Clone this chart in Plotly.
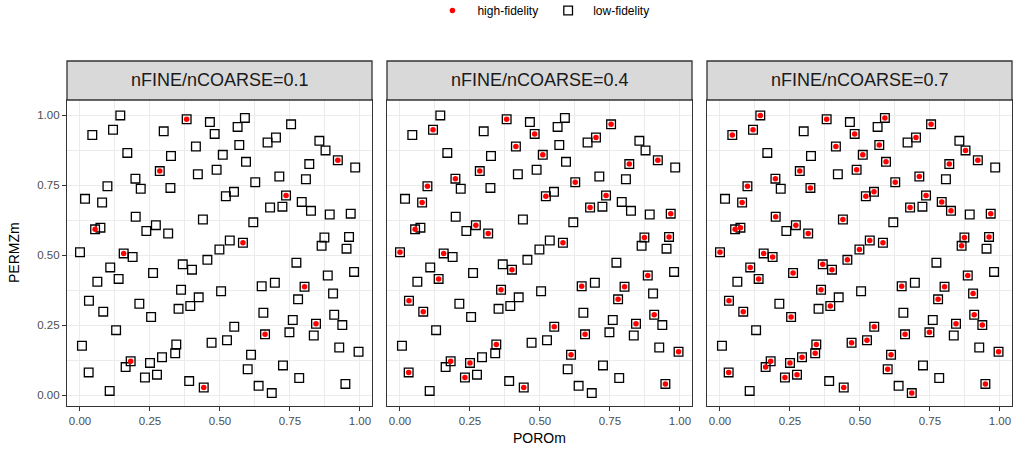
import plotly.graph_objects as go

# ---- data ----
poro = [0.144, 0.381, 0.464, 0.589, 0.563, 0.754, 0.044, 0.118, 0.299, 0.481,
        0.700, 0.670, 0.855, 0.877, 0.414, 0.569, 0.169, 0.325, 0.510, 0.593,
        0.921, 0.983, 0.819, 0.285, 0.421, 0.488, 0.712, 0.807, 0.198, 0.217,
        0.098, 0.323, 0.626, 0.550, 0.521, 0.736, 0.018, 0.079, 0.792, 0.825,
        0.679, 0.723, 0.892, 0.967, 0.199, 0.439, 0.619, 0.054, 0.073, 0.271,
        0.237, 0.315, 0.873, 0.961, 0.863, 0.952, 0.535, 0.582, 0.498, 0.000,
        0.156, 0.188, 0.455, 0.773, 0.108, 0.367, 0.400, 0.138, 0.261, 0.885,
        0.979, 0.062, 0.802, 0.649, 0.696, 0.361, 0.504, 0.904, 0.032, 0.212,
        0.424, 0.394, 0.352, 0.779, 0.083, 0.254, 0.655, 0.908, 0.760, 0.843,
        0.937, 0.129, 0.551, 0.661, 0.748, 0.835, 0.007, 0.470, 0.525, 0.344,
        0.340, 0.293, 0.250, 0.181, 0.163, 0.611, 0.926, 0.995, 0.031, 0.232,
        0.275, 0.390, 0.442, 0.599, 0.725, 0.638, 0.685, 0.783, 0.948, 0.106]
permz = [0.999, 0.985, 0.975, 0.990, 0.958, 0.967, 0.929, 0.948, 0.942, 0.933,
         0.920, 0.902, 0.908, 0.874, 0.888, 0.893, 0.865, 0.854, 0.858, 0.833,
         0.839, 0.813, 0.825, 0.800, 0.789, 0.805, 0.781, 0.771, 0.773, 0.737,
         0.746, 0.740, 0.760, 0.726, 0.710, 0.713, 0.701, 0.688, 0.690, 0.658,
         0.670, 0.673, 0.645, 0.648, 0.637, 0.627, 0.617, 0.592, 0.598, 0.607,
         0.586, 0.577, 0.563, 0.565, 0.533, 0.523, 0.552, 0.544, 0.520, 0.510,
         0.506, 0.493, 0.483, 0.473, 0.456, 0.467, 0.448, 0.415, 0.436, 0.427,
         0.440, 0.405, 0.387, 0.389, 0.401, 0.376, 0.371, 0.363, 0.337, 0.326,
         0.349, 0.318, 0.308, 0.342, 0.298, 0.279, 0.294, 0.287, 0.268, 0.255,
         0.250, 0.232, 0.244, 0.217, 0.224, 0.213, 0.176, 0.187, 0.196, 0.181,
         0.149, 0.135, 0.115, 0.121, 0.100, 0.144, 0.170, 0.155, 0.081, 0.063,
         0.073, 0.050, 0.027, 0.092, 0.106, 0.033, 0.007, 0.061, 0.040, 0.015]

# 1-based indices of the low-fidelity points that are also high-fidelity
hf_idx_01 = [2, 21, 24, 36, 48, 58, 61, 73, 90, 94, 104, 113]
hf_idx_04 = [2, 6, 8, 10, 11, 15, 19, 21, 23, 24, 29, 31, 33, 35, 36, 38, 41, 44,
             48, 50, 52, 53, 54, 58, 60, 61, 67, 68, 70, 73, 74, 76, 79, 84, 85,
             88, 90, 93, 94, 100, 103, 104, 106, 108, 109, 110, 113, 119]
hf_idx_07 = [1, 2, 4, 6, 7, 8, 10, 11, 14, 15, 16, 19, 20, 21, 23, 24, 26, 27, 29,
             31, 32, 33, 34, 35, 36, 38, 39, 40, 41, 44, 45, 46, 48, 49, 50, 52,
             53, 54, 55, 57, 58, 59, 60, 61, 62, 63, 65, 66, 67, 68, 69, 70, 73,
             74, 76, 78, 79, 82, 84, 85, 86, 88, 90, 91, 93, 94, 95, 98, 99, 100,
             101, 102, 103, 104, 105, 106, 108, 109, 110, 111, 113, 114, 117, 119]

panel_labels = ["nFINE/nCOARSE=0.1", "nFINE/nCOARSE=0.4", "nFINE/nCOARSE=0.7"]
hf_sets = [hf_idx_01, hf_idx_04, hf_idx_07]
tick_vals = [0.0, 0.25, 0.5, 0.75, 1.0]
tick_text = ["0.00", "0.25", "0.50", "0.75", "1.00"]

# ---- layout geometry (pixels) ----
W, H = 1013, 452
FONT = "Liberation Sans, Arial, Helvetica, sans-serif"
panels_px = [(67, 372), (387, 692), (707, 1012)]
panel_top, panel_bottom = 100, 406
strip_top = 61


def fx(p):
    return p / W


def fy(p):
    return 1 - p / H


fig = go.Figure()

for i, (label, idx) in enumerate(zip(panel_labels, hf_sets)):
    sfx = "" if i == 0 else str(i + 1)
    fig.add_trace(go.Scatter(
        x=poro, y=permz, mode="markers", xaxis="x" + sfx, yaxis="y" + sfx,
        name="low-fidelity", legendgroup="lf", showlegend=(i == 0), legendrank=2,
        marker=dict(symbol="square-open", size=8.7, color="#000000",
                    line=dict(width=1.3)),
        hoverinfo="skip"))
    fig.add_trace(go.Scatter(
        x=[poro[k - 1] for k in idx], y=[permz[k - 1] for k in idx],
        mode="markers", xaxis="x" + sfx, yaxis="y" + sfx,
        name="high-fidelity", legendgroup="hf", showlegend=(i == 0), legendrank=1,
        marker=dict(symbol="circle", size=5.5, color="#FF0000", line=dict(width=0)),
        hoverinfo="skip"))

axis_common = dict(
    showline=True, mirror=True, linecolor="#333333", linewidth=1.3,
    showgrid=True, gridcolor="#EBEBEB", gridwidth=1.1,
    zeroline=False, ticks="outside", ticklen=4, tickwidth=1.1, tickcolor="#333333",
    tickfont=dict(family=FONT, size=11.5, color="#4D4D4D"),
    tickvals=tick_vals, ticktext=tick_text,
    minor=dict(tickvals=[0.125, 0.375, 0.625, 0.875], showgrid=True,
               gridcolor="#EBEBEB", gridwidth=0.6, ticks=""),
)

layout = dict(
    width=W, height=H, margin=dict(l=0, r=0, t=0, b=0, autoexpand=False),
    paper_bgcolor="white", plot_bgcolor="white",
    font=dict(family=FONT, color="#000000"),
    showlegend=True,
    legend=dict(orientation="h", x=0.534, xanchor="center", y=1.0088, yanchor="top",
                font=dict(family=FONT, size=12, color="#000000"),
                bgcolor="rgba(0,0,0,0)", itemsizing="trace", itemwidth=40),
)

shapes = []
annotations = []
for i, ((x0, x1), label) in enumerate(zip(panels_px, panel_labels)):
    sfx = "" if i == 0 else str(i + 1)
    layout["xaxis" + sfx] = dict(axis_common, domain=[fx(x0), fx(x1)],
                                 range=[-0.0464, 1.043], anchor="y" + sfx)
    yax = dict(axis_common, domain=[fy(panel_bottom), fy(panel_top)],
               range=[-0.039, 1.054], anchor="x" + sfx)
    if i > 0:
        yax.update(showticklabels=False, ticks="")
    layout["yaxis" + sfx] = yax
    shapes.append(dict(type="rect", xref="paper", yref="paper",
                       x0=fx(x0), x1=fx(x1), y0=fy(panel_top), y1=fy(strip_top),
                       fillcolor="#D9D9D9", line=dict(color="#333333", width=1.3),
                       layer="above"))
    annotations.append(dict(text=label, xref="paper", yref="paper",
                            x=fx((x0 + x1) / 2), y=fy((panel_top + strip_top) / 2),
                            xanchor="center", yanchor="middle", showarrow=False,
                            font=dict(family=FONT, size=18, color="#1A1A1A")))

annotations.append(dict(text="POROm", xref="paper", yref="paper",
                        x=fx((panels_px[0][0] + panels_px[2][1]) / 2), y=fy(438),
                        xanchor="center", yanchor="middle", showarrow=False,
                        font=dict(family=FONT, size=14, color="#000000")))
annotations.append(dict(text="PERMZm", xref="paper", yref="paper",
                        x=fx(14), y=fy((panel_top + panel_bottom) / 2),
                        xanchor="center", yanchor="middle", showarrow=False,
                        textangle=-90,
                        font=dict(family=FONT, size=14, color="#000000")))

layout["shapes"] = shapes
layout["annotations"] = annotations
fig.update_layout(**layout)

fig.write_html("out.html")
